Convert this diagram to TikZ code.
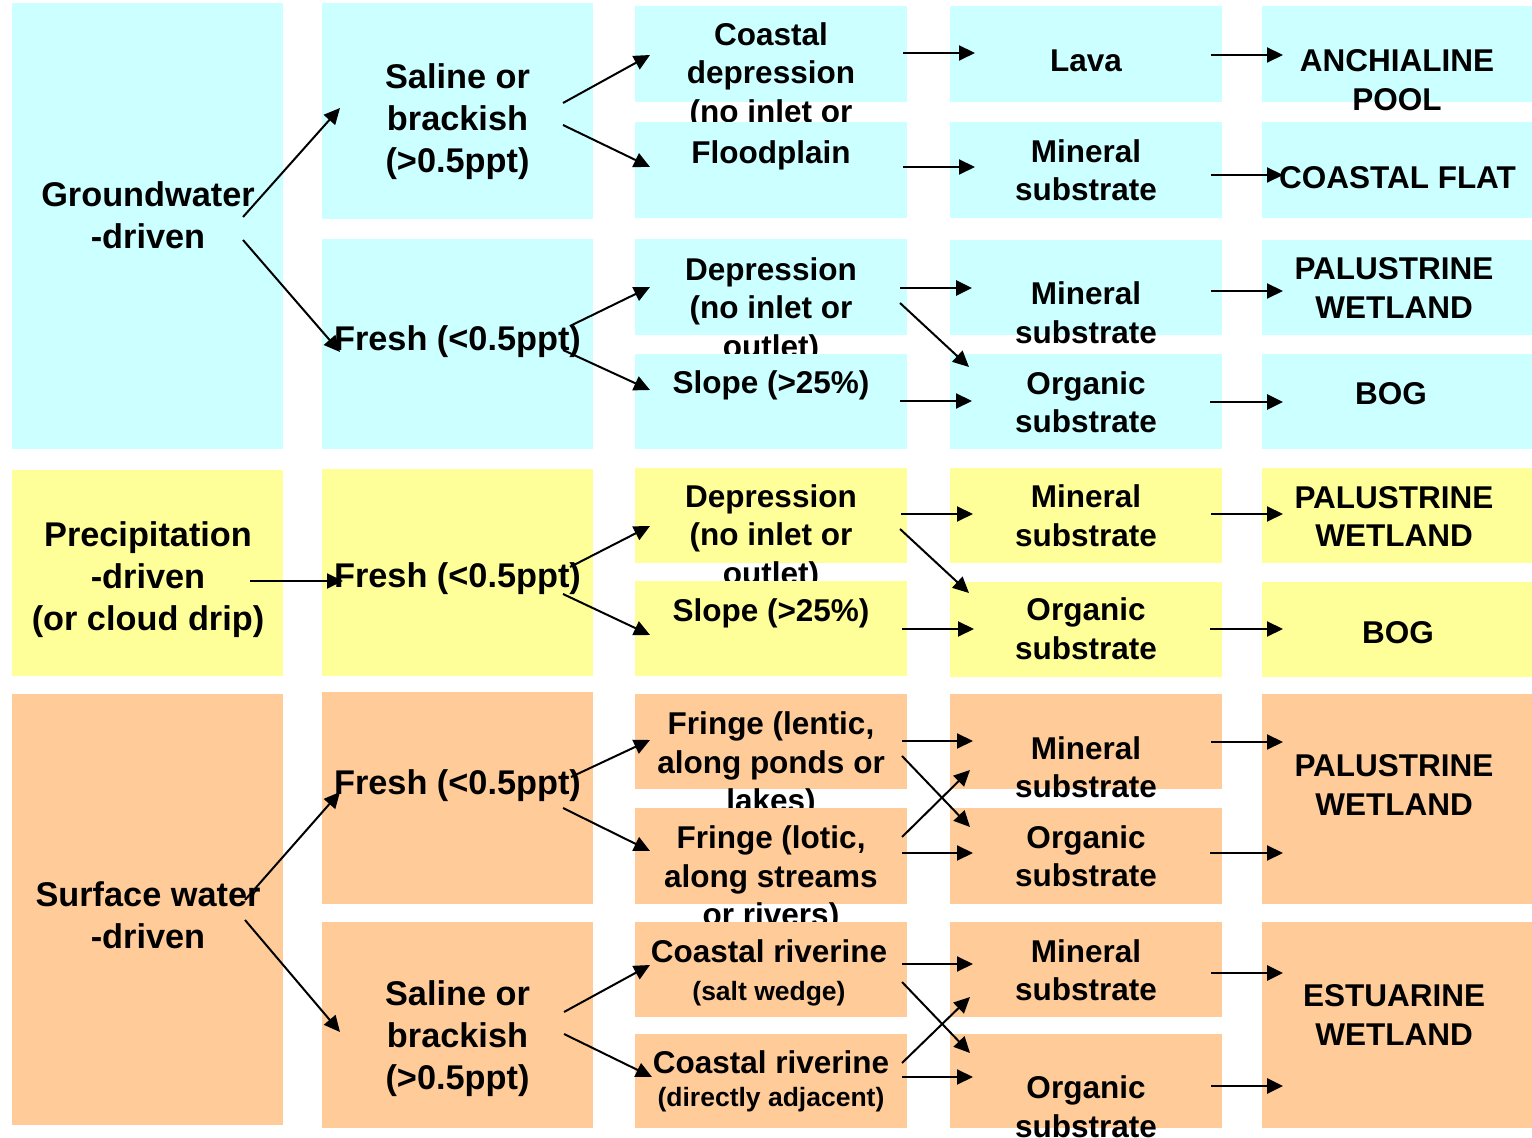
\documentclass[tikz,border=0pt]{standalone}
\usepackage{fontspec}
\setmainfont{Liberation Sans}
\usetikzlibrary{arrows.meta}
\definecolor{cy}{HTML}{CCFFFF}
\definecolor{ye}{HTML}{FFFF99}
\definecolor{og}{HTML}{FFCC99}
\tikzset{
  bx/.style={rectangle, draw=none, inner sep=0pt, outer sep=0pt, anchor=north west},
  tbig/.style={anchor=north, inner sep=0pt, outer sep=0pt, align=center,
    font=\bfseries\fontsize{17.15pt}{21pt}\selectfont},
  tmid/.style={anchor=north, inner sep=0pt, outer sep=0pt, align=center,
    font=\bfseries\fontsize{15.75pt}{19.25pt}\selectfont},
  arr/.style={line width=1pt, -{Triangle[length=8pt,width=7.5pt]}},
  arrthick/.style={arr, line width=1.4pt},
}
\newcommand\mkbox[6]{\node[bx, fill=#2, minimum width={0.5pt*(#5-#3)}, minimum height={0.5pt*(#6-#4)}] (#1) at (#3,#4) {};}
\newcommand\tx[5]{\node[#2] (#1) at (#3,#4) {\strut #5\strut};}
\newcommand\smallline{\fontsize{13.25pt}{16pt}\selectfont}
\begin{document}
\begin{tikzpicture}[x=0.5pt,y=-0.5pt]
\useasboundingbox (0,0) rectangle (1532,1138);
\clip (0,0) rectangle (1532,1138);

% ---------- Column 1 ----------
\mkbox{g1}{cy}{12}{3}{283}{449}
\tx{tg1}{tbig}{148}{177}{Groundwater\\-driven}
\mkbox{p1}{ye}{12}{470}{283}{676}
\tx{tp1}{tbig}{148}{517}{Precipitation\\-driven\\(or cloud drip)}
\mkbox{s1}{og}{12}{694}{283}{1125}
\tx{ts1}{tbig}{148}{877}{Surface water\\-driven}

% ---------- Column 2 ----------
\mkbox{c2a}{cy}{322}{3}{593}{219}
\tx{tc2a}{tbig}{457.5}{59}{Saline or\\brackish\\(>0.5ppt)}
\mkbox{c2b}{cy}{322}{239}{593}{449}
\tx{tc2b}{tbig}{457.5}{321}{Fresh (<0.5ppt)}
\mkbox{c2c}{ye}{322}{469}{593}{676}
\tx{tc2c}{tbig}{457.5}{558}{Fresh (<0.5ppt)}
\mkbox{c2d}{og}{322}{692}{593}{904}
\tx{tc2d}{tbig}{457.5}{765.4}{Fresh (<0.5ppt)}
\mkbox{c2e}{og}{322}{922}{593}{1128}
\tx{tc2e}{tbig}{457.5}{976.4}{Saline or\\brackish\\(>0.5ppt)}

% ---------- Column 3 ----------
\mkbox{b3a}{cy}{635}{6}{907}{102}
\tx{t3a}{tmid}{771}{18.3}{Coastal\\depression\\(no inlet or\\outlet)}
\mkbox{b3b}{cy}{635}{122}{907}{218}
\tx{t3b}{tmid}{771}{136.3}{Floodplain}
\mkbox{b3c}{cy}{635}{239}{907}{335}
\tx{t3c}{tmid}{771}{253.3}{Depression\\(no inlet or\\outlet)}
\mkbox{b3d}{cy}{635}{354}{907}{449}
\tx{t3d}{tmid}{771}{366.8}{Slope (>25\%)}
\mkbox{b3e}{ye}{635}{468}{907}{563}
\tx{t3e}{tmid}{771}{480.3}{Depression\\(no inlet or\\outlet)}
\mkbox{b3f}{ye}{635}{581}{907}{676}
\tx{t3f}{tmid}{771}{594.3}{Slope (>25\%)}
\mkbox{b3g}{og}{635}{694}{907}{789}
\tx{t3g}{tmid}{771}{707.8}{Fringe (lentic,\\along ponds or\\lakes)}
\mkbox{b3h}{og}{635}{808}{907}{904}
\tx{t3h}{tmid}{771}{821.8}{Fringe (lotic,\\along streams\\or rivers)}
\mkbox{b3i}{og}{635}{922}{907}{1017}
\tx{t3i}{tmid}{769}{935.3}{Coastal riverine\\{\smallline (salt wedge)}}
\mkbox{b3j}{og}{635}{1034}{907}{1128}
\tx{t3j}{tmid}{771}{1046.8}{Coastal riverine\\[-3pt]{\smallline (directly adjacent)}}

% ---------- Column 4 ----------
\mkbox{b4a}{cy}{950}{6}{1222}{102}
\tx{t4a}{tmid}{1086}{44.3}{Lava}
\mkbox{b4b}{cy}{950}{122}{1222}{218}
\tx{t4b}{tmid}{1086}{135.3}{Mineral\\substrate}
\mkbox{b4c}{cy}{950}{240}{1222}{335}
\tx{t4c}{tmid}{1086}{277.8}{Mineral\\substrate}
\mkbox{b4d}{cy}{950}{354}{1222}{449}
\tx{t4d}{tmid}{1086}{367.3}{Organic\\substrate}
\mkbox{b4e}{ye}{950}{468}{1222}{563}
\tx{t4e}{tmid}{1086}{480.8}{Mineral\\substrate}
\mkbox{b4f}{ye}{950}{582}{1222}{677}
\tx{t4f}{tmid}{1086}{593.8}{Organic\\substrate}
\mkbox{b4g}{og}{950}{694}{1222}{789}
\tx{t4g}{tmid}{1086}{732.3}{Mineral\\substrate}
\mkbox{b4h}{og}{950}{808}{1222}{904}
\tx{t4h}{tmid}{1086}{821.3}{Organic\\substrate}
\mkbox{b4i}{og}{950}{922}{1222}{1017}
\tx{t4i}{tmid}{1086}{935.3}{Mineral\\substrate}
\mkbox{b4j}{og}{950}{1034}{1222}{1128}
\tx{t4j}{tmid}{1086}{1071.8}{Organic\\substrate}

% ---------- Column 5 ----------
\mkbox{b5a}{cy}{1262}{6}{1532}{102}
\tx{t5a}{tmid}{1397}{44.8}{ANCHIALINE\\POOL}
\mkbox{b5b}{cy}{1262}{122}{1532}{218}
\tx{t5b}{tmid}{1397.5}{161.8}{COASTAL FLAT}
\mkbox{b5c}{cy}{1262}{240}{1532}{335}
\tx{t5c}{tmid}{1394}{252.8}{PALUSTRINE\\WETLAND}
\mkbox{b5d}{cy}{1262}{354}{1532}{449}
\tx{t5d}{tmid}{1391}{377.8}{BOG}
\mkbox{b5e}{ye}{1262}{468}{1532}{563}
\tx{t5e}{tmid}{1394}{481.3}{PALUSTRINE\\WETLAND}
\mkbox{b5f}{ye}{1262}{582}{1532}{677}
\tx{t5f}{tmid}{1398}{616.3}{BOG}
\mkbox{b5g}{og}{1262}{694}{1532}{904}
\tx{t5g}{tmid}{1394}{749.8}{PALUSTRINE\\WETLAND}
\mkbox{b5h}{og}{1262}{922}{1532}{1128}
\tx{t5h}{tmid}{1394}{979.8}{ESTUARINE\\WETLAND}

% ---------- Arrows: column 1 -> column 2 ----------
\draw[arr] ([shift={(-40,-9)}]g1.east) -- ([shift={(18,-3)}]c2a.west);
\draw[arr] ([shift={(-40,14)}]g1.east) -- ([shift={(18,8)}]c2b.west);
\draw[arr] ([shift={(-33,8)}]p1.east) -- ([shift={(21,8.5)}]c2c.west);
\draw[arr] ([shift={(-38,-9.5)}]s1.east) -- ([shift={(18,-6)}]c2d.west);
\draw[arr] ([shift={(-38,10.5)}]s1.east) -- ([shift={(18,7)}]c2e.west);

% ---------- Arrows: column 2 -> column 3 ----------
\draw[arr] ([shift={(-30,-8)}]c2a.east) -- ([shift={(15,1)}]b3a.west);
\draw[arr] ([shift={(-30,14)}]c2a.east) -- ([shift={(15,-3)}]b3b.west);
\draw[arr] ([shift={(-23,-18)}]c2b.east) -- ([shift={(15,0)}]b3c.west);
\draw[arr] ([shift={(-30,6)}]c2b.east) -- ([shift={(15,-11.5)}]b3d.west);
\draw[arr] ([shift={(-23,-5.5)}]c2c.east) -- ([shift={(15,10.5)}]b3e.west);
\draw[arr] ([shift={(-30,21.5)}]c2c.east) -- ([shift={(15,6.5)}]b3f.west);
\draw[arr] ([shift={(-22,-21)}]c2d.east) -- ([shift={(15,-1.5)}]b3g.west);
\draw[arr] ([shift={(-30,10)}]c2d.east) -- ([shift={(15,-5)}]b3h.west);
\draw[arr] ([shift={(-29,-13)}]c2e.east) -- ([shift={(15,-4.5)}]b3i.west);
\draw[arr] ([shift={(-29,9)}]c2e.east) -- ([shift={(17,-4)}]b3j.west);

% ---------- Arrows: column 3 -> column 4 ----------
\draw[arr] ([shift={(-4,-1)}]b3a.east) -- ([shift={(25,-1)}]b4a.west);
\draw[arr] ([shift={(-4,-3)}]b3b.east) -- ([shift={(25,-3)}]b4b.west);
\draw[arrthick] ([shift={(-7,1)}]b3c.east) -- ([shift={(22,0.5)}]b4c.west);
\draw[arr] ([shift={(-7,16)}]b3c.east) -- ([shift={(19,-34.5)}]b4d.west);
\draw[arr] ([shift={(-7,-0.5)}]b3d.east) -- ([shift={(22,-0.5)}]b4d.west);
\draw[arr] ([shift={(-6,-1.5)}]b3e.east) -- ([shift={(23,-1.5)}]b4e.west);
\draw[arr] ([shift={(-7,13.5)}]b3e.east) -- ([shift={(19,-36.5)}]b4f.west);
\draw[arr] ([shift={(-5,0.5)}]b3f.east) -- ([shift={(24,-0.5)}]b4f.west);
\draw[arr] ([shift={(-5,-0.5)}]b3g.east) -- ([shift={(23,-0.5)}]b4g.west);
\draw[arr] ([shift={(-5,14.5)}]b3g.east) -- ([shift={(20,-29)}]b4h.west);
\draw[arr] ([shift={(-5,-19)}]b3h.east) -- ([shift={(20,28.5)}]b4g.west);
\draw[arr] ([shift={(-5,-3)}]b3h.east) -- ([shift={(23,-3)}]b4h.west);
\draw[arr] ([shift={(-5,-5.5)}]b3i.east) -- ([shift={(23,-5.5)}]b4i.west);
\draw[arr] ([shift={(-5,12.5)}]b3i.east) -- ([shift={(20,-28)}]b4j.west);
\draw[arr] ([shift={(-5,-18)}]b3j.east) -- ([shift={(20,27.5)}]b4i.west);
\draw[arr] ([shift={(-5,-4)}]b3j.east) -- ([shift={(23,-4)}]b4j.west);

% ---------- Arrows: column 4 -> column 5 ----------
\draw[arr] ([shift={(-11,1)}]b4a.east) -- ([shift={(21,1)}]b5a.west);
\draw[arr] ([shift={(-11,5)}]b4b.east) -- ([shift={(21,5)}]b5b.west);
\draw[arr] ([shift={(-11,3.5)}]b4c.east) -- ([shift={(21,3.5)}]b5c.west);
\draw[arrthick] ([shift={(-12,0.5)}]b4d.east) -- ([shift={(21,0.5)}]b5d.west);
\draw[arr] ([shift={(-11,-1.5)}]b4e.east) -- ([shift={(21,-1.5)}]b5e.west);
\draw[arr] ([shift={(-12,-0.5)}]b4f.east) -- ([shift={(21,-0.5)}]b5f.west);
\draw[arr] ([shift={(-11,0.5)}]b4g.east) -- ([shift={(21,-57)}]b5g.west);
\draw[arr] ([shift={(-12,-3)}]b4h.east) -- ([shift={(21,54)}]b5g.west);
\draw[arrthick] ([shift={(-11,3.5)}]b4i.east) -- ([shift={(21,-52)}]b5h.west);
\draw[arrthick] ([shift={(-11,5)}]b4j.east) -- ([shift={(21,61)}]b5h.west);
\end{tikzpicture}
\end{document}
